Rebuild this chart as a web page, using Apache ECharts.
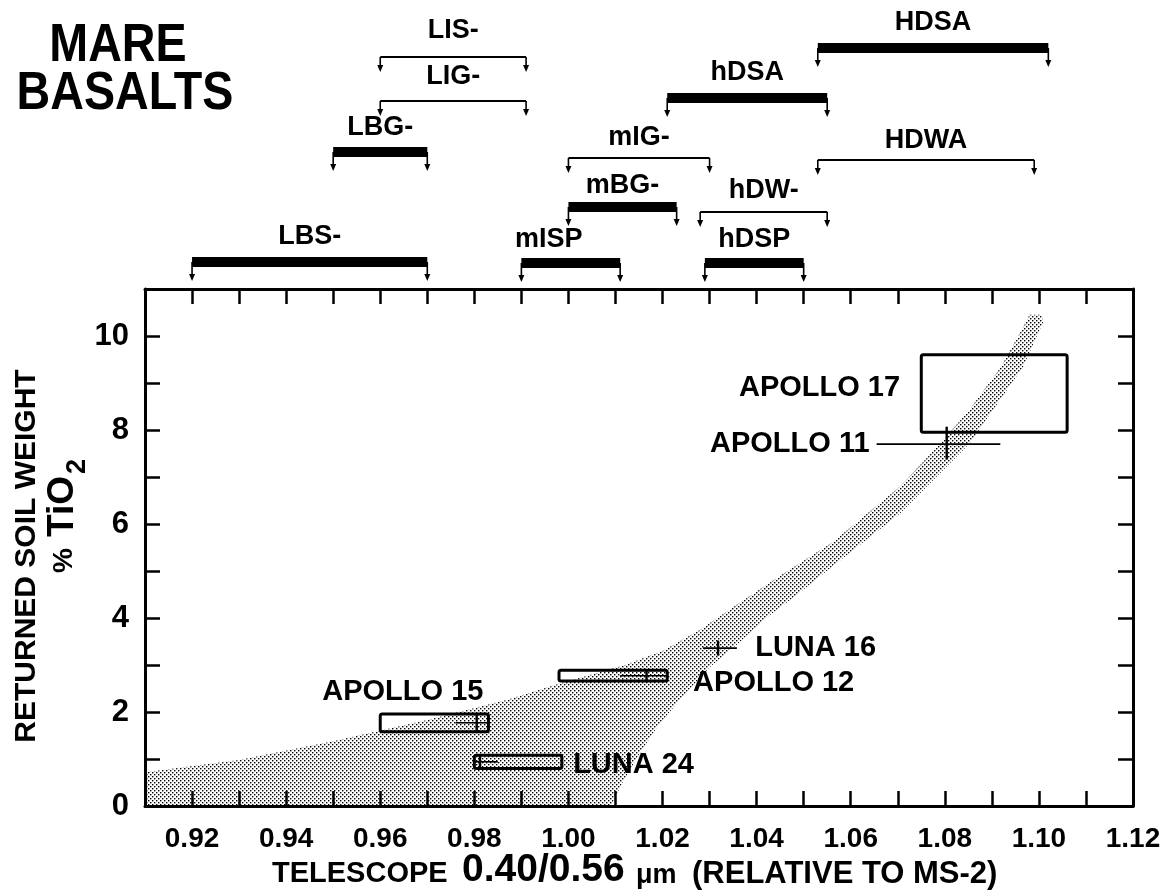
<!DOCTYPE html>
<html>
<head>
<meta charset="utf-8">
<script src="https://cdn.jsdelivr.net/npm/echarts@6/dist/echarts.min.js"></script>
<style>
  html, body { margin: 0; padding: 0; background: #fff; }
  #chart { width: 1176px; height: 894px; }
</style>
</head>
<body>
<div id="chart"></div>
<script>
// ---- axis ranges -------------------------------------------------------
const ratioMin = 0.91, ratioMax = 1.12, ratioStep = 0.01;   // 0.40/0.56 um ratio
const tio2Min = 0, tio2Max = 11, tio2Step = 1;              // wt% TiO2

// ---- basalt-type spectral ranges (0.40/0.56 um ratio) -------------------
const rangeNames = ['LBS-', 'LBG-', 'LIG-', 'LIS-', 'mISP', 'mBG-', 'mIG-', 'hDSP', 'hDW-', 'hDSA', 'HDWA', 'HDSA'];
const rangeStart = [0.920, 0.950, 0.960, 0.960, 0.990, 1.000, 1.000, 1.029, 1.028, 1.021, 1.053, 1.053];
const rangeEnd   = [0.970, 0.970, 0.991, 0.991, 1.011, 1.023, 1.030, 1.050, 1.055, 1.055, 1.099, 1.102];

// ---- shaded trend band: left (upper) edge and right (lower) edge -------
const bandLeftRatio  = [0.910, 0.930, 0.950, 0.970, 0.987, 0.998, 1.012, 1.020, 1.028, 1.036, 1.045, 1.056, 1.0705, 1.078, 1.085, 1.092, 1.097, 1.098];
const bandLeftTiO2   = [0.72, 0.98, 1.38, 1.83, 2.26, 2.60, 3.00, 3.30, 3.75, 4.30, 4.90, 5.60, 6.80, 7.60, 8.40, 9.35, 10.25, 10.45];
const bandRightRatio = [1.1005, 1.1009, 1.0966, 1.0853, 1.0705, 1.056, 1.048, 1.042, 1.036, 1.030, 1.024, 1.019, 1.015, 1.0115, 1.009];
const bandRightTiO2  = [10.45, 10.30, 9.34, 7.72, 6.23, 5.09, 4.45, 4.00, 3.45, 2.95, 2.30, 1.70, 1.10, 0.50, 0];

// ---- returned soils: ranges drawn as boxes ----------------------------
const boxSamples   = ['APOLLO 17', 'APOLLO 15', 'LUNA 24', 'APOLLO 12'];
const boxRatioLow  = [1.075, 0.960, 0.980, 0.998];
const boxRatioHigh = [1.106, 0.983, 0.9986, 1.021];
const boxTiO2Low   = [7.95, 1.58, 0.80, 2.66];
const boxTiO2High  = [9.60, 1.96, 1.08, 2.89];

// ---- returned soils: point values with error bars ----------------------
const crossSamples   = ['APOLLO 11', 'LUNA 16', 'APOLLO 15', 'LUNA 24', 'APOLLO 12'];
const crossRatio     = [1.0804, 1.0318, 0.9805, 0.9812, 1.0166];
const crossTiO2      = [7.70, 3.36, 1.77, 0.94, 2.77];
const crossRatioLow  = [1.0655, 1.0286, 0.9760, 0.9800, 1.0110];
const crossRatioHigh = [1.0918, 1.0358, 0.9830, 0.9850, 1.0210];
const crossTiO2Low   = [7.37, 3.20, 1.58, 0.80, 2.66];
const crossTiO2High  = [8.07, 3.52, 1.96, 1.08, 2.89];

// ---- layout ------------------------------------------------------------
const FONT = '"Liberation Sans", Arial, Helvetica, sans-serif';
// pixel rows for the range bars above the frame (bar centre, label centre)
const rangeLayout = {
  'HDSA': { bar: 48,  label: 23,  heavy: true },
  'LIS-': { bar: 57,  label: 31,  heavy: false },
  'hDSA': { bar: 98,  label: 73,  heavy: true },
  'LIG-': { bar: 101, label: 77,  heavy: false },
  'LBG-': { bar: 152, label: 128, heavy: true },
  'mIG-': { bar: 158, label: 138, heavy: false },
  'HDWA': { bar: 160, label: 141, heavy: false },
  'mBG-': { bar: 207, label: 186, heavy: true },
  'hDW-': { bar: 212, label: 191, heavy: false },
  'LBS-': { bar: 262, label: 237, heavy: true },
  'mISP': { bar: 263, label: 240, heavy: true, dx: -22 },
  'hDSP': { bar: 263, label: 240, heavy: true }
};
// sample label anchors, in data units
const sampleLabelAt = {
  'APOLLO 17': { at: [1.0705, 8.89], align: 'right' },
  'APOLLO 11': { at: [1.0640, 7.70], align: 'right' },
  'APOLLO 15': { at: [0.9648, 2.43], align: 'center' },
  'LUNA 24':   { at: [1.0010, 0.87], align: 'left' },
  'APOLLO 12': { at: [1.0265, 2.62], align: 'left' },
  'LUNA 16':   { at: [1.0397, 3.36], align: 'left' }
};

// dotted screen used for the band
function stipple() {
  const c = document.createElement('canvas');
  c.width = 4; c.height = 4;
  const g = c.getContext('2d');
  g.fillStyle = '#000';
  g.fillRect(0, 0, 1.4, 1.4);
  g.fillRect(2, 2, 1.4, 1.4);
  return c;
}
const dotFill = { image: stipple(), repeat: 'repeat' };

const chart = echarts.init(document.getElementById('chart'), null, { renderer: 'canvas' });

const frameLine = { show: true, onZero: false, lineStyle: { color: '#000', width: 3 } };
const innerTick = { show: true, inside: true, length: 15, lineStyle: { color: '#000', width: 2.5 } };

const bandPoints = [];
bandLeftRatio.forEach((x, i) => bandPoints.push([x, bandLeftTiO2[i]]));
bandRightRatio.forEach((x, i) => bandPoints.push([x, bandRightTiO2[i]]));
bandPoints.push([ratioMin, 0]);

const labelNames = Object.keys(sampleLabelAt);

// bold free-standing text element
function bold(size, text, x, y, opts) {
  opts = opts || {};
  return {
    type: 'text', x, y,
    rotation: opts.rotation || 0,
    scaleX: opts.scaleX || 1,
    style: {
      text, font: 'bold ' + size + 'px ' + FONT, fill: '#000',
      align: opts.align || 'left', verticalAlign: 'middle'
    }
  };
}

const option = {
  animation: false,
  backgroundColor: '#fff',
  grid: { left: 145, right: 43, top: 289, bottom: 88 },
  xAxis: [
    {
      type: 'value', min: ratioMin, max: ratioMax, interval: ratioStep, position: 'bottom',
      axisLine: frameLine, axisTick: innerTick, splitLine: { show: false },
      axisLabel: {
        margin: 19, color: '#000', fontFamily: FONT, fontWeight: 'bold', fontSize: 28,
        formatter: v => { const k = Math.round(v * 100); return k % 2 === 0 ? (k / 100).toFixed(2) : ''; }
      }
    },
    {
      type: 'value', min: ratioMin, max: ratioMax, interval: ratioStep, position: 'top',
      axisLine: frameLine, axisTick: innerTick, splitLine: { show: false }, axisLabel: { show: false }
    }
  ],
  yAxis: [
    {
      type: 'value', min: tio2Min, max: tio2Max, interval: tio2Step, position: 'left',
      axisLine: frameLine, axisTick: innerTick, splitLine: { show: false },
      axisLabel: {
        margin: 16, color: '#000', fontFamily: FONT, fontWeight: 'bold', fontSize: 31,
        formatter: v => (Math.round(v) % 2 === 0 ? String(Math.round(v)) : '')
      }
    },
    {
      type: 'value', min: tio2Min, max: tio2Max, interval: tio2Step, position: 'right',
      axisLine: frameLine, axisTick: innerTick, splitLine: { show: false }, axisLabel: { show: false }
    }
  ],
  series: [
    // stippled trend band
    {
      type: 'custom', silent: true, xAxisIndex: 0, yAxisIndex: 0, z: 1,
      data: [0],
      renderItem: (params, api) => ({
        type: 'polygon',
        shape: { points: bandPoints.map(p => api.coord(p)) },
        style: { fill: dotFill, stroke: null }
      })
    },
    // boxes
    {
      type: 'custom', silent: true, xAxisIndex: 0, yAxisIndex: 0, z: 3,
      data: boxSamples.map((n, i) => [boxRatioLow[i], boxTiO2Low[i], boxRatioHigh[i], boxTiO2High[i]]),
      encode: { x: [0, 2], y: [1, 3] },
      renderItem: (params, api) => {
        const a = api.coord([api.value(0), api.value(1)]);
        const b = api.coord([api.value(2), api.value(3)]);
        return {
          type: 'rect',
          shape: { x: a[0], y: b[1], width: b[0] - a[0], height: a[1] - b[1], r: 2 },
          style: { fill: null, stroke: '#000', lineWidth: 3 }
        };
      }
    },
    // error-bar crosses
    {
      type: 'custom', silent: true, xAxisIndex: 0, yAxisIndex: 0, z: 4,
      data: crossSamples.map((n, i) => [crossRatio[i], crossTiO2[i], crossRatioLow[i], crossRatioHigh[i], crossTiO2Low[i], crossTiO2High[i]]),
      encode: { x: [0, 2, 3], y: [1, 4, 5] },
      renderItem: (params, api) => {
        const c = api.coord([api.value(0), api.value(1)]);
        const xl = api.coord([api.value(2), api.value(1)])[0];
        const xh = api.coord([api.value(3), api.value(1)])[0];
        const yl = api.coord([api.value(0), api.value(4)])[1];
        const yh = api.coord([api.value(0), api.value(5)])[1];
        return {
          type: 'group',
          children: [
            { type: 'line', shape: { x1: xl, y1: c[1], x2: xh, y2: c[1] }, style: { stroke: '#000', lineWidth: 1.6 } },
            { type: 'line', shape: { x1: c[0], y1: yl, x2: c[0], y2: yh }, style: { stroke: '#000', lineWidth: 2.4 } }
          ]
        };
      }
    },
    // sample names
    {
      type: 'custom', silent: true, xAxisIndex: 0, yAxisIndex: 0, z: 5,
      data: labelNames.map((n, i) => [sampleLabelAt[n].at[0], sampleLabelAt[n].at[1], i]),
      renderItem: (params, api) => {
        const name = labelNames[api.value(2)];
        const p = api.coord([api.value(0), api.value(1)]);
        return {
          type: 'text', x: p[0], y: p[1],
          style: { text: name, fill: '#000', font: 'bold 29px ' + FONT, align: sampleLabelAt[name].align, verticalAlign: 'middle' }
        };
      }
    },
    // basalt-type ranges above the frame
    {
      type: 'custom', silent: true, clip: false, xAxisIndex: 0, yAxisIndex: 0, z: 5,
      data: rangeNames.map((n, i) => [rangeStart[i], 0, rangeEnd[i], i]),
      encode: { x: [0, 2], y: 1 },
      renderItem: (params, api) => {
        const name = rangeNames[api.value(3)];
        const L = rangeLayout[name];
        const x0 = api.coord([api.value(0), 0])[0];
        const x1 = api.coord([api.value(2), 0])[0];
        const h = L.heavy ? 10 : 2.2;
        const bottom = L.bar + h / 2;
        const kids = [
          { type: 'rect', shape: { x: x0, y: L.bar - h / 2, width: x1 - x0, height: h }, style: { fill: '#000' } }
        ];
        [x0, x1].forEach(x => {
          kids.push({ type: 'line', shape: { x1: x, y1: L.bar, x2: x, y2: bottom + 9 }, style: { stroke: '#000', lineWidth: 1.6 } });
          kids.push({ type: 'polygon', shape: { points: [[x - 3, bottom + 7], [x + 3, bottom + 7], [x, bottom + 14]] }, style: { fill: '#000' } });
        });
        kids.push({
          type: 'text', x: (x0 + x1) / 2 + (L.dx || 0), y: L.label,
          style: { text: name, fill: '#000', font: 'bold 27px ' + FONT, align: 'center', verticalAlign: 'middle' }
        });
        return { type: 'group', children: kids };
      }
    }
  ],
  graphic: [
    bold(53, 'MARE', 118, 46, { scaleX: 0.88, align: 'center' }),
    bold(53, 'BASALTS', 125, 94, { scaleX: 0.88, align: 'center' }),
    // y-axis title
    bold(30, 'RETURNED SOIL WEIGHT', 27, 556, { rotation: Math.PI / 2, align: 'center' }),
    bold(28, '%', 64, 573, { rotation: Math.PI / 2 }),
    bold(37, 'TiO', 63, 537, { rotation: Math.PI / 2 }),
    bold(27, '2', 78, 474, { rotation: Math.PI / 2 }),
    // x-axis title
    bold(29, 'TELESCOPE', 272, 874),
    bold(39, '0.40/0.56', 462, 870),
    bold(27, '\u03bcm', 636, 876),
    bold(31, '(RELATIVE TO MS-2)', 692, 874)
  ]
};

chart.setOption(option);
</script>
</body>
</html>
